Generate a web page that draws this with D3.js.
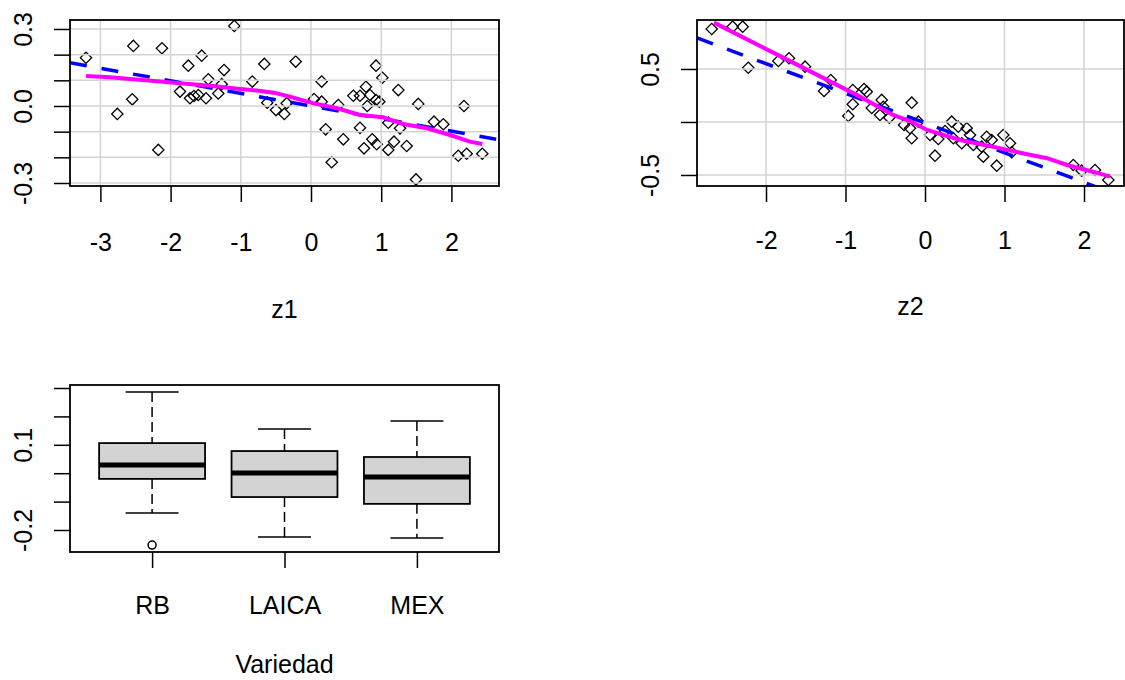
<!DOCTYPE html>
<html>
<head>
<meta charset="utf-8">
<script src="https://cdn.jsdelivr.net/npm/d3@7"></script>
<style>
  body { margin: 0; background: #fff; }
  svg text { font-family: "Liberation Sans", Arial, sans-serif; }
</style>
</head>
<body>
<svg width="1125" height="680"></svg>
<script>
// ---- datos panel 1 (z1 vs residuo) ----
var z1 = [-3.205, -2.531, -2.123, -2.759, -2.546, -2.175, -1.093, -1.748, -1.557, -1.239,
          -1.463, -1.272, -1.866, -1.724, -1.667, -1.605, -1.496, -1.321, -0.836, -0.665,
          -0.218, -0.623, -0.499, -0.380, -0.346, 0.152, 0.043, 0.152, 0.389, 0.209,
          0.460, 0.295, 0.926, 1.016, 0.783, 0.603, 0.698, 0.840, 0.926, 0.973,
          0.802, 1.244, 1.528, 0.698, 0.873, 0.936, 0.755, 1.101, 1.182, 1.363,
          1.101, 1.268, 1.496, 1.752, 1.885, 2.179, 2.098, 2.218, 2.440];
var res1 = [0.188, 0.234, 0.225, -0.031, 0.026, -0.171, 0.312, 0.157, 0.196, 0.140,
            0.104, 0.085, 0.056, 0.030, 0.039, 0.043, 0.030, 0.049, 0.095, 0.164,
            0.173, 0.013, -0.016, -0.031, 0.011, 0.095, 0.027, 0.017, 0.004, -0.091,
            -0.130, -0.219, 0.157, 0.110, 0.075, 0.040, 0.040, 0.043, 0.023, 0.017,
            0.000, 0.062, 0.008, -0.085, -0.130, -0.149, -0.165, -0.171, -0.139, -0.156,
            -0.065, -0.087, -0.286, -0.061, -0.071, 0.000, -0.194, -0.186, -0.186];
var lowessZ1 = [-3.205, -2.863, -2.536, -2.151, -1.823, -1.396, -1.111, -0.769, -0.513, -0.299,
                0.028, 0.370, 0.698, 1.026, 1.311, 1.652, 1.980, 2.265, 2.440];
var lowessR1 = [0.117, 0.112, 0.104, 0.095, 0.088, 0.078, 0.069, 0.060, 0.051, 0.036,
                0.011, -0.009, -0.035, -0.044, -0.070, -0.087, -0.113, -0.139, -0.148];
var recta1 = [0, -0.049];   // intercepto, pendiente

// ---- datos panel 2 (z2 vs residuo) ----
var z2 = [-2.683, -2.419, -2.293, -2.223, -1.845, -1.711, -1.509, -1.186, -1.270, -0.909,
          -0.767, -0.733, -0.909, -0.965, -0.670, -0.545, -0.525, -0.566, -0.449, -0.167,
          -0.264, -0.189, -0.167, -0.084, 0.063, 0.167, 0.126, 0.252, 0.336, 0.419,
          0.356, 0.462, 0.525, 0.566, 0.608, 0.713, 0.733, 0.776, 0.839, 0.902,
          0.985, 1.069, 1.091, 1.865, 1.971, 2.138, 2.306];
var res2 = [0.877, 0.899, 0.899, 0.512, 0.575, 0.601, 0.522, 0.396, 0.292, 0.302,
            0.311, 0.286, 0.167, 0.057, 0.132, 0.208, 0.144, 0.066, 0.041, 0.182,
            -0.028, -0.059, -0.154, 0.003, -0.123, -0.160, -0.318, -0.085, 0.003, -0.044,
            -0.154, -0.201, -0.059, -0.123, -0.217, -0.233, -0.327, -0.139, -0.170, -0.412,
            -0.123, -0.201, -0.286, -0.406, -0.459, -0.453, -0.547];
var lowessZ2 = [-2.654, -1.698, -0.818, -0.403, -0.189, 0.025, 0.440, 0.855, 1.195, 1.535,
                1.786, 2.113, 2.327];
var lowessR2 = [0.937, 0.574, 0.239, 0.066, 0.009, -0.075, -0.170, -0.233, -0.290, -0.342,
                -0.406, -0.469, -0.516];
var recta2 = [-0.01, -0.28];

// ---- datos panel 3 (boxplot por variedad) ----
var variedad = ["RB", "LAICA", "MEX"];
var bigoteInf = [-0.140, -0.225, -0.228];
var cuartil1  = [-0.020, -0.084, -0.108];
var mediana   = [0.029, 0.001, -0.013];
var cuartil3  = [0.106, 0.078, 0.057];
var bigoteSup = [0.286, 0.156, 0.184];
var atipicoGrupo = [1];
var atipicoValor = [-0.253];

// ---- ticks ----
var ticksX1 = [-3, -2, -1, 0, 1, 2];
var ticksY1 = [-0.3, -0.2, -0.1, 0, 0.1, 0.2, 0.3];
var etiqY1 = [-0.3, 0, 0.3];
var ticksX2 = [-2, -1, 0, 1, 2];
var ticksY2 = [-0.5, 0, 0.5];
var etiqY2 = [-0.5, 0.5];
var ticksY3 = [-0.2, -0.1, 0, 0.1, 0.2, 0.3];
var etiqY3 = [-0.2, 0.1];

var svg = d3.select("svg");
var fuente = "'Liberation Sans', Arial, sans-serif";
var tam = 25;

function tieneEtiqueta(lista, d) {
    return lista.some(function (v) { return Math.abs(v - d) < 1e-9; });
}

function ejeY(g, y, left, ticks, etiq) {
    var eje = d3.axisLeft(y).tickValues(ticks).tickSize(16).tickSizeOuter(0)
        .tickFormat(function (d) { return tieneEtiqueta(etiq, d) ? d.toFixed(1) : ""; });
    var ga = g.append("g").attr("transform", "translate(" + left + ",0)").call(eje);
    ga.select(".domain").remove();
    ga.selectAll("line").attr("stroke", "#000").attr("stroke-width", 1.5);
    ga.attr("font-size", tam).attr("font-family", fuente);
    ga.selectAll("text")
        .attr("transform", "rotate(-90)")
        .attr("x", 0).attr("y", -38).attr("dy", 0)
        .attr("text-anchor", "middle").attr("fill", "#000");
}

function panelDispersion(p) {
    var x = d3.scaleLinear().domain(p.dx).range([p.left, p.right]);
    var y = d3.scaleLinear().domain(p.dy).range([p.bottom, p.top]);
    var g = svg.append("g");

    g.append("clipPath").attr("id", p.id).append("rect")
        .attr("x", p.left).attr("y", p.top)
        .attr("width", p.right - p.left).attr("height", p.bottom - p.top);

    var cuerpo = g.append("g").attr("clip-path", "url(#" + p.id + ")");

    // puntos
    cuerpo.selectAll("path.pt").data(p.zx).enter().append("path")
        .attr("class", "pt")
        .attr("d", d3.symbol(d3.symbolSquare, 64))
        .attr("transform", function (d, i) {
            return "translate(" + x(d) + "," + y(p.zy[i]) + ") rotate(45)";
        })
        .attr("fill", "none").attr("stroke", "#000").attr("stroke-width", 1.3);

    // rejilla
    cuerpo.selectAll("line.gx").data(p.ticksX).enter().append("line")
        .attr("x1", function (d) { return x(d); }).attr("x2", function (d) { return x(d); })
        .attr("y1", p.top).attr("y2", p.bottom)
        .attr("stroke", "#d3d3d3").attr("stroke-width", 1.5);
    cuerpo.selectAll("line.gy").data(p.ticksY).enter().append("line")
        .attr("y1", function (d) { return y(d); }).attr("y2", function (d) { return y(d); })
        .attr("x1", p.left).attr("x2", p.right)
        .attr("stroke", "#d3d3d3").attr("stroke-width", 1.5);

    // recta azul discontinua
    cuerpo.append("line")
        .attr("x1", x(p.dx[0])).attr("y1", y(p.recta[0] + p.recta[1] * p.dx[0]))
        .attr("x2", x(p.dx[1])).attr("y2", y(p.recta[0] + p.recta[1] * p.dx[1]))
        .attr("stroke", "#0000ff").attr("stroke-width", 3.5)
        .attr("stroke-dasharray", "17,15");

    // lowess magenta
    cuerpo.append("path").datum(p.lx)
        .attr("d", d3.line().x(function (d) { return x(d); })
                            .y(function (d, i) { return y(p.ly[i]); }))
        .attr("fill", "none").attr("stroke", "#ff00ff").attr("stroke-width", 4);

    // marco
    g.append("rect").attr("x", p.left).attr("y", p.top)
        .attr("width", p.right - p.left).attr("height", p.bottom - p.top)
        .attr("fill", "none").attr("stroke", "#000").attr("stroke-width", 1.8);

    var ejeX = d3.axisBottom(x).tickValues(p.ticksX).tickSize(16).tickPadding(p.pad)
        .tickSizeOuter(0).tickFormat(function (d) { return String(d); });
    var gx = g.append("g").attr("transform", "translate(0," + p.bottom + ")").call(ejeX);
    gx.select(".domain").remove();
    gx.selectAll("line").attr("stroke", "#000").attr("stroke-width", 1.5);
    gx.attr("font-size", tam).attr("font-family", fuente);
    gx.selectAll("text").attr("fill", "#000");

    ejeY(g, y, p.left, p.ticksY, p.etiqY);

    g.append("text").attr("x", (p.left + p.right) / 2).attr("y", p.tituloY)
        .attr("text-anchor", "middle").attr("font-size", tam).text(p.titulo);
}

panelDispersion({
    id: "c1", left: 70, right: 499, top: 20, bottom: 186,
    dx: [-3.433, 2.678], dy: [-0.3117, 0.335],
    zx: z1, zy: res1, lx: lowessZ1, ly: lowessR1, recta: recta1,
    ticksX: ticksX1, ticksY: ticksY1, etiqY: etiqY1,
    pad: 31, titulo: "z1", tituloY: 318
});

panelDispersion({
    id: "c2", left: 697, right: 1124, top: 20, bottom: 186,
    dx: [-2.868, 2.503], dy: [-0.604, 0.962],
    zx: z2, zy: res2, lx: lowessZ2, ly: lowessR2, recta: recta2,
    ticksX: ticksX2, ticksY: ticksY2, etiqY: etiqY2,
    pad: 29, titulo: "z2", tituloY: 315
});

// ---- boxplot ----
(function () {
    var left = 70, right = 499, top = 385, bottom = 552;
    var x = d3.scaleLinear().domain([0.38, 3.62]).range([left, right]);
    var y = d3.scaleLinear().domain([-0.2775, 0.3106]).range([bottom, top]);
    var g = svg.append("g");
    var grupos = d3.range(variedad.length);
    var anchoCaja = x(1.4) - x(1);
    var anchoTope = x(1.2) - x(1);

    var cajas = g.selectAll("g.caja").data(grupos).enter().append("g").attr("class", "caja");

    // bigotes discontinuos
    cajas.append("line")
        .attr("x1", function (i) { return x(i + 1); }).attr("x2", function (i) { return x(i + 1); })
        .attr("y1", function (i) { return y(bigoteSup[i]); }).attr("y2", function (i) { return y(cuartil3[i]); })
        .attr("stroke", "#000").attr("stroke-width", 1.5).attr("stroke-dasharray", "10,5");
    cajas.append("line")
        .attr("x1", function (i) { return x(i + 1); }).attr("x2", function (i) { return x(i + 1); })
        .attr("y1", function (i) { return y(cuartil1[i]); }).attr("y2", function (i) { return y(bigoteInf[i]); })
        .attr("stroke", "#000").attr("stroke-width", 1.5).attr("stroke-dasharray", "10,5");
    // topes
    [bigoteSup, bigoteInf].forEach(function (arr) {
        cajas.append("line")
            .attr("x1", function (i) { return x(i + 1) - anchoTope; })
            .attr("x2", function (i) { return x(i + 1) + anchoTope; })
            .attr("y1", function (i) { return y(arr[i]); }).attr("y2", function (i) { return y(arr[i]); })
            .attr("stroke", "#000").attr("stroke-width", 1.5);
    });
    // caja
    cajas.append("rect")
        .attr("x", function (i) { return x(i + 1) - anchoCaja; })
        .attr("width", 2 * anchoCaja)
        .attr("y", function (i) { return y(cuartil3[i]); })
        .attr("height", function (i) { return y(cuartil1[i]) - y(cuartil3[i]); })
        .attr("fill", "#d3d3d3").attr("stroke", "#000").attr("stroke-width", 1.8);
    // mediana
    cajas.append("line")
        .attr("x1", function (i) { return x(i + 1) - anchoCaja; })
        .attr("x2", function (i) { return x(i + 1) + anchoCaja; })
        .attr("y1", function (i) { return y(mediana[i]); }).attr("y2", function (i) { return y(mediana[i]); })
        .attr("stroke", "#000").attr("stroke-width", 5);
    // atipicos
    g.selectAll("circle.at").data(atipicoValor).enter().append("circle")
        .attr("cx", function (d, i) { return x(atipicoGrupo[i]); })
        .attr("cy", function (d) { return y(d); })
        .attr("r", 4).attr("fill", "none").attr("stroke", "#000").attr("stroke-width", 1.5);

    g.append("rect").attr("x", left).attr("y", top)
        .attr("width", right - left).attr("height", bottom - top)
        .attr("fill", "none").attr("stroke", "#000").attr("stroke-width", 1.8);

    var ejeX = d3.axisBottom(x).tickValues([1, 2, 3]).tickSize(16).tickPadding(28)
        .tickSizeOuter(0).tickFormat(function (d) { return variedad[d - 1]; });
    var gx = g.append("g").attr("transform", "translate(0," + bottom + ")").call(ejeX);
    gx.select(".domain").remove();
    gx.selectAll("line").attr("stroke", "#000").attr("stroke-width", 1.5);
    gx.attr("font-size", tam).attr("font-family", fuente);
    gx.selectAll("text").attr("fill", "#000");

    ejeY(g, y, left, ticksY3, etiqY3);

    g.append("text").attr("x", (left + right) / 2).attr("y", 673)
        .attr("text-anchor", "middle").attr("font-size", tam).text("Variedad");
})();
</script>
</body>
</html>
